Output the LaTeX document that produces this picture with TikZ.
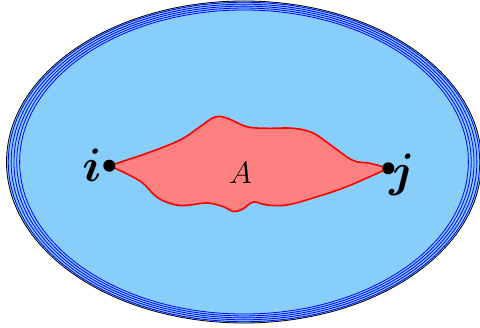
\RequirePackage{fix-cm}
\documentclass[tikz,border=0pt]{standalone}
\usepackage{bm}
\definecolor{skyfill}{RGB}{135,206,250}
\definecolor{blobfill}{RGB}{255,128,128}
\begin{document}
\begin{tikzpicture}[x=1pt,y=-1pt,
  ring/.style={draw=blue,line width=0.8pt},
  blob/.style={draw=red,fill=blobfill,line width=1.6pt,line join=round},
  vdot/.style={circle,fill=black,inner sep=0pt,minimum size=12pt},
  vlabel/.style={inner sep=0pt,font=\fontsize{47}{52}\selectfont},
  alabel/.style={inner sep=0pt,font=\fontsize{31}{36}\selectfont}]
\useasboundingbox (0,0) rectangle (480,328);
% outer region
\fill[skyfill,draw=black,line width=0.8pt] (244,162) ellipse [x radius=237.5, y radius=161];
\foreach \s in {1.000,0.988,0.976,0.964,0.952}{
  \draw[ring] (244,162) ellipse [x radius=235.7*\s, y radius=159.7*\s];
}
% vertices
\coordinate (pi) at (109.3,165.7);
\coordinate (pj) at (388.3,168.3);
% blob A
\path[blob] (pi)
  -- plot[smooth,tension=0.6] coordinates {(109.3,165.7) (146.7,153.3) (180,140) (200,126.7) (215,117) (228,118.5) (246.7,126.7) (266.7,128.3) (293,128.3) (313,133) (333,146.7) (353,160.5) (370,163.3) (388.3,168.3)}
  -- plot[smooth,tension=0.6] coordinates {(388.3,168.3) (346.7,186.7) (313,198) (286.7,205) (266.7,205) (253.3,202) (243,209) (233,211.5) (223.3,206.7) (206.7,203) (180,205.5) (158,198) (140,181) (109.3,165.7)}
  -- cycle;
\node[vdot] (i) at (pi) {};
\node[vdot] (j) at (pj) {};
\node[alabel,anchor=base] (A) at (240.5,184) {$A$};
\node[vlabel,anchor=base] (li) at (92,182) {$\bm{i}$};
\node[vlabel,anchor=base] (lj) at (402,187) {$\bm{j}$};
\end{tikzpicture}
\end{document}
